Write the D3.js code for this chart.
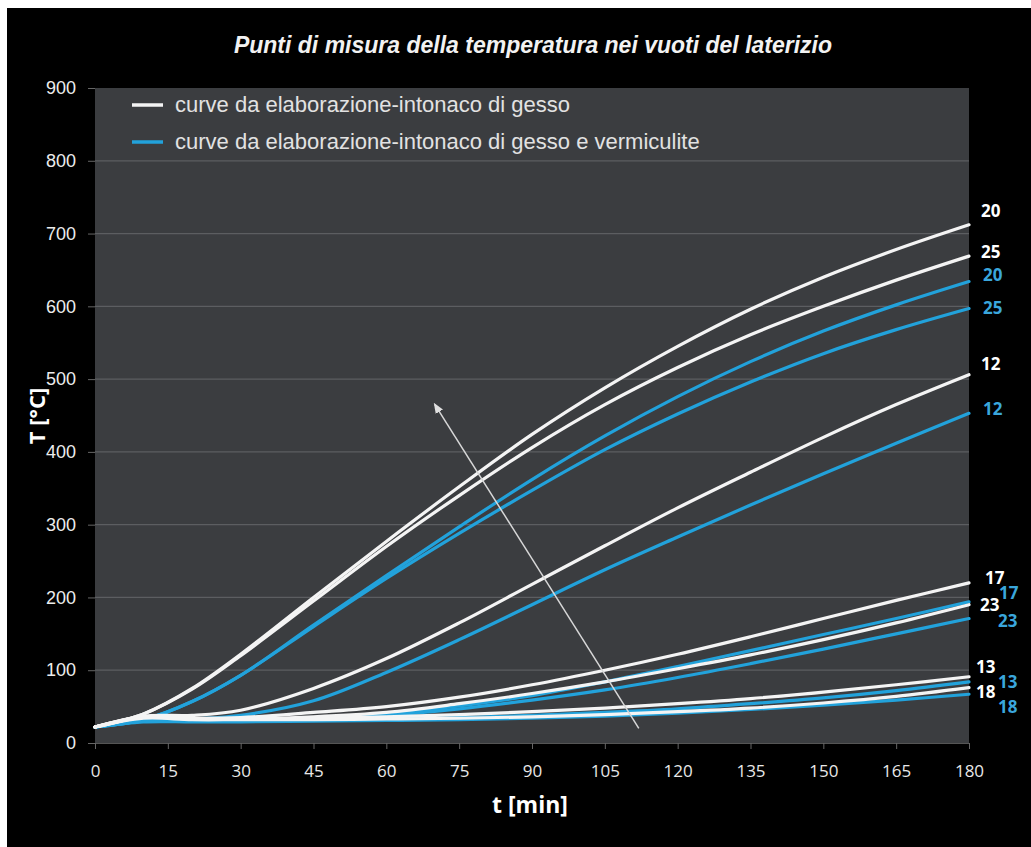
<!DOCTYPE html>
<html>
<head>
<meta charset="utf-8">
<script src="https://cdn.jsdelivr.net/npm/d3@7"></script>
<style>
  html, body { margin: 0; padding: 0; background: #fff; }
  svg { display: block; }
</style>
</head>
<body>
<script>
// time axis (min) and measured temperatures (°C)
var times = [0, 10, 20, 30, 45, 60, 75, 90, 105, 120, 135, 150, 165, 180];

// curve da elaborazione - intonaco di gesso (white)
var gesso20 = [22, 40, 75, 122, 200, 277, 352, 424, 488, 545, 596, 640, 678, 712];
var gesso25 = [22, 40, 74, 120, 195, 270, 340, 406, 465, 516, 561, 600, 636, 669];
var gesso12 = [22, 37, 38, 45, 75, 116, 165, 218, 271, 323, 372, 420, 465, 506];
var gesso17 = [22, 36, 34, 35, 42, 50, 63, 80, 100, 122, 146, 171, 196, 220];
var gesso23 = [22, 36, 33, 33, 36, 42, 54, 68, 84, 102, 121, 142, 165, 190];
var gesso13 = [22, 35, 33, 33, 34, 36, 39, 43, 48, 54, 61, 70, 80, 91];
var gesso18 = [22, 34, 32, 32, 32, 33, 34, 36, 39, 43, 48, 55, 64, 76];

// curve da elaborazione - intonaco di gesso e vermiculite (blue)
var verm20 = [22, 32, 57, 93, 162, 230, 297, 362, 422, 476, 524, 566, 602, 634];
var verm25 = [22, 32, 57, 93, 160, 226, 288, 347, 403, 452, 496, 535, 568, 597];
var verm12 = [22, 30, 33, 38, 58, 97, 142, 190, 238, 283, 327, 370, 412, 453];
var verm17 = [22, 30, 30, 31, 34, 40, 51, 65, 84, 105, 127, 149, 171, 194];
var verm23 = [22, 30, 30, 30, 33, 38, 47, 59, 73, 90, 109, 129, 150, 171];
var verm13 = [22, 30, 30, 30, 31, 33, 35, 38, 42, 47, 54, 62, 72, 84];
var verm18 = [22, 29, 29, 29, 30, 31, 32, 34, 37, 41, 46, 52, 59, 67];

var xTicks = [0, 15, 30, 45, 60, 75, 90, 105, 120, 135, 150, 165, 180];
var yTicks = [0, 100, 200, 300, 400, 500, 600, 700, 800, 900];

var titleText = 'Punti di misura della temperatura nei vuoti del laterizio';
var legendLabels = ['curve da elaborazione-intonaco di gesso',
                    'curve da elaborazione-intonaco di gesso e vermiculite'];

// arrow from [t, T] to [t, T]
var arrowFrom = [112, 20];
var arrowTo = [70, 465];

var chart = {
    width: 1031,
    height: 847,
    plot: { left: 95, right: 969, top: 88, bottom: 743 },
    white: '#f4f4f4',
    blue: '#22a2db',
    blueText: '#3aa6dc',
    plotBg: '#3b3d40',
    grid: '#5c5e61'
};

var series = [
    { name: '20', values: gesso20, kind: 'white', dy: -14, dx: 12 },
    { name: '25', values: gesso25, kind: 'white', dy: -4, dx: 12 },
    { name: '12', values: gesso12, kind: 'white', dy: -11, dx: 12 },
    { name: '17', values: gesso17, kind: 'white', dy: -5, dx: 16 },
    { name: '23', values: gesso23, kind: 'white', dy: 0, dx: 11 },
    { name: '13', values: gesso13, kind: 'white', dy: -10, dx: 7 },
    { name: '18', values: gesso18, kind: 'white', dy: 4, dx: 7 },
    { name: '20', values: verm20, kind: 'blue', dy: -7, dx: 14 },
    { name: '25', values: verm25, kind: 'blue', dy: 0, dx: 14 },
    { name: '12', values: verm12, kind: 'blue', dy: -4, dx: 14 },
    { name: '17', values: verm17, kind: 'blue', dy: -9, dx: 30 },
    { name: '23', values: verm23, kind: 'blue', dy: 2, dx: 29 },
    { name: '13', values: verm13, kind: 'blue', dy: 0, dx: 29 },
    { name: '18', values: verm18, kind: 'blue', dy: 13, dx: 29 }
];

var svg = d3.select('body').append('svg')
    .attr('width', chart.width)
    .attr('height', chart.height);

svg.append('rect')
    .attr('x', 7).attr('y', 8)
    .attr('width', chart.width - 7).attr('height', chart.height - 8)
    .attr('fill', '#000');

var x = d3.scaleLinear().domain([0, 180]).range([chart.plot.left, chart.plot.right]);
var y = d3.scaleLinear().domain([0, 900]).range([chart.plot.bottom, chart.plot.top]);

svg.append('rect')
    .attr('x', chart.plot.left).attr('y', chart.plot.top)
    .attr('width', chart.plot.right - chart.plot.left)
    .attr('height', chart.plot.bottom - chart.plot.top)
    .attr('fill', chart.plotBg);

// horizontal gridlines
svg.append('g').selectAll('line')
    .data(yTicks.slice(1, -1))
    .enter().append('line')
    .attr('x1', chart.plot.left).attr('x2', chart.plot.right)
    .attr('y1', function(d) { return y(d); })
    .attr('y2', function(d) { return y(d); })
    .attr('stroke', chart.grid)
    .attr('stroke-width', 1.2);

// axes
var yAxis = svg.append('g')
    .attr('transform', 'translate(' + chart.plot.left + ',0)')
    .call(d3.axisLeft(y).tickValues(yTicks).tickSize(7).tickPadding(12));
yAxis.select('.domain').remove();
yAxis.selectAll('line').attr('stroke', '#666');
yAxis.selectAll('text')
    .attr('fill', '#ececec')
    .style('font-family', '"Liberation Sans", Arial, sans-serif')
    .style('font-size', '18px');

var xAxis = svg.append('g')
    .attr('transform', 'translate(0,' + chart.plot.bottom + ')')
    .call(d3.axisBottom(x).tickValues(xTicks).tickSize(6).tickPadding(16));
xAxis.select('.domain').attr('stroke', '#555');
xAxis.selectAll('line').attr('stroke', '#666');
xAxis.selectAll('text')
    .attr('fill', '#e8e8e8')
    .style('font-family', '"Open Sans", sans-serif')
    .style('font-size', '17px');

// curves
var line = d3.line()
    .x(function(d, i) { return x(times[i]); })
    .y(function(d) { return y(d); })
    .curve(d3.curveCatmullRom.alpha(0.5));

var ordered = series.filter(function(s) { return s.kind === 'blue'; })
    .concat(series.filter(function(s) { return s.kind === 'white'; }));

svg.append('g').selectAll('path')
    .data(ordered)
    .enter().append('path')
    .attr('d', function(s) { return line(s.values); })
    .attr('fill', 'none')
    .attr('stroke', function(s) { return s.kind === 'white' ? chart.white : chart.blue; })
    .attr('stroke-width', 3.2)
    .attr('stroke-linecap', 'round');

// end labels
svg.append('g').selectAll('text')
    .data(series)
    .enter().append('text')
    .attr('x', function(s) { return x(180) + s.dx; })
    .attr('y', function(s) { return y(s.values[s.values.length - 1]) + s.dy; })
    .attr('dy', '0.35em')
    .attr('fill', function(s) { return s.kind === 'white' ? '#fff' : chart.blueText; })
    .style('font-family', '"Open Sans", sans-serif')
    .style('font-weight', 'bold')
    .style('font-size', '17px')
    .text(function(s) { return s.name; });

// arrow
svg.append('defs').append('marker')
    .attr('id', 'head')
    .attr('viewBox', '0 0 10 10')
    .attr('refX', 8).attr('refY', 5)
    .attr('markerWidth', 7).attr('markerHeight', 7)
    .attr('orient', 'auto')
    .append('path')
    .attr('d', 'M0,1 L10,5 L0,9 Z')
    .attr('fill', '#e0e0e0');

svg.append('line')
    .attr('x1', x(arrowFrom[0])).attr('y1', y(arrowFrom[1]))
    .attr('x2', x(arrowTo[0])).attr('y2', y(arrowTo[1]))
    .attr('stroke', '#d8d8d8')
    .attr('stroke-width', 1.5)
    .attr('marker-end', 'url(#head)');

// legend
var legend = svg.append('g');
legendLabels.forEach(function(label, i) {
    var ly = 105 + i * 37;
    legend.append('line')
        .attr('x1', 132).attr('x2', 163)
        .attr('y1', ly).attr('y2', ly)
        .attr('stroke', i === 0 ? chart.white : chart.blue)
        .attr('stroke-width', 3.5);
    legend.append('text')
        .attr('x', 175).attr('y', ly + 7)
        .attr('fill', '#e2e2e2')
        .style('font-family', '"Liberation Sans", Arial, sans-serif')
        .style('font-size', '22px')
        .text(label);
});

// title and axis names
svg.append('text')
    .attr('x', 533).attr('y', 53)
    .attr('text-anchor', 'middle')
    .attr('fill', '#f2f2f2')
    .style('font-family', '"Liberation Sans", Arial, sans-serif')
    .style('font-style', 'italic')
    .style('font-weight', 'bold')
    .style('font-size', '23px')
    .text(titleText);

svg.append('text')
    .attr('x', 530).attr('y', 813)
    .attr('text-anchor', 'middle')
    .attr('fill', '#fff')
    .style('font-family', '"Open Sans", sans-serif')
    .style('font-weight', 'bold')
    .style('font-size', '23px')
    .text('t [min]');

svg.append('text')
    .attr('transform', 'translate(45,416) rotate(-90)')
    .attr('text-anchor', 'middle')
    .attr('fill', '#fff')
    .style('font-family', '"Open Sans", sans-serif')
    .style('font-weight', 'bold')
    .style('font-size', '22px')
    .text('T [°C]');
</script>
</body>
</html>
